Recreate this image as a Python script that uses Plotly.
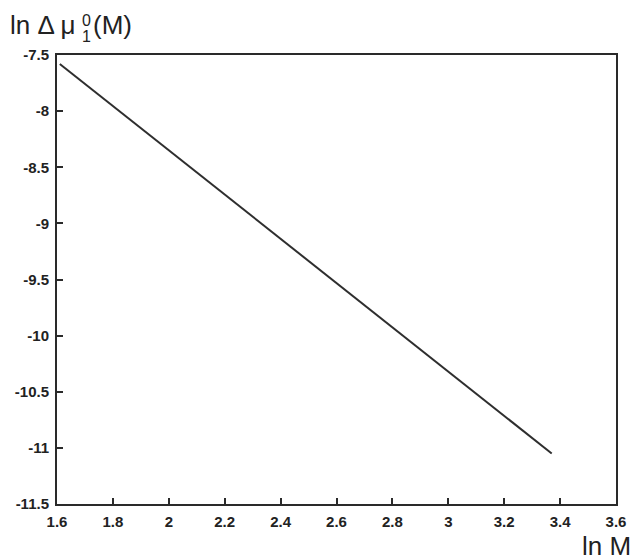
import plotly.graph_objects as go

# Data
ln_M = [1.61, 3.37]
ln_dmu = [-7.58, -11.05]

x_ticks = [1.6, 1.8, 2.0, 2.2, 2.4, 2.6, 2.8, 3.0, 3.2, 3.4, 3.6]
x_tick_text = ["1.6", "1.8", "2", "2.2", "2.4", "2.6", "2.8", "3", "3.2", "3.4", "3.6"]
y_ticks = [-11.5, -11, -10.5, -10, -9.5, -9, -8.5, -8, -7.5]
y_tick_text = ["-11.5", "-11", "-10.5", "-10", "-9.5", "-9", "-8.5", "-8", "-7.5"]

W, H = 638, 559
L, R, T, B = 57, 20, 55, 55
PW, PH = W - L - R, H - T - B


def px(x):
    return (x - L) / PW


def py(y):
    return (H - B - y) / PH


fig = go.Figure()
fig.add_trace(go.Scatter(x=ln_M, y=ln_dmu, mode="lines",
                         line=dict(color="#2e2e2e", width=2), showlegend=False))

tickfont = dict(family="Liberation Sans, Arial", size=15, color="#222222")
axis_common = dict(showgrid=False, zeroline=False, showline=True, linecolor="#2a2a2a",
                   linewidth=2, mirror=True, ticks="inside", ticklen=6, tickwidth=1.5,
                   tickcolor="#2a2a2a", tickfont=tickfont)

fig.update_xaxes(range=[1.6, 3.6], tickvals=x_ticks,
                 ticktext=["<b>%s</b>" % t for t in x_tick_text],
                 ticklabelstandoff=3, **axis_common)
fig.update_yaxes(range=[-11.5, -7.5], tickvals=y_ticks,
                 ticktext=["<b>%s</b>" % t for t in y_tick_text],
                 ticklabelstandoff=3, **axis_common)

font_main = dict(family="Liberation Sans, Arial", size=26, color="#222222")
font_small = dict(family="Liberation Sans, Arial", size=16, color="#222222")

ann = [
    dict(text="ln Δ μ", x=px(8), y=py(25), xanchor="left", yanchor="middle", font=font_main),
    dict(text="0", x=px(80), y=py(20), xanchor="left", yanchor="middle", font=font_small),
    dict(text="1", x=px(80), y=py(36), xanchor="left", yanchor="middle", font=font_small),
    dict(text="(M)", x=px(91), y=py(25), xanchor="left", yanchor="middle", font=font_main),
    dict(text="ln M", x=px(635), y=py(546), xanchor="right", yanchor="middle", font=font_main),
]
for a in ann:
    a.update(xref="paper", yref="paper", showarrow=False)

fig.update_layout(width=W, height=H, margin=dict(l=L, r=R, t=T, b=B),
                  paper_bgcolor="white", plot_bgcolor="white", annotations=ann)

fig.write_html("out.html", config={"displayModeBar": False},
               post_script="document.body.style.margin='0';document.body.style.overflow='hidden';")
